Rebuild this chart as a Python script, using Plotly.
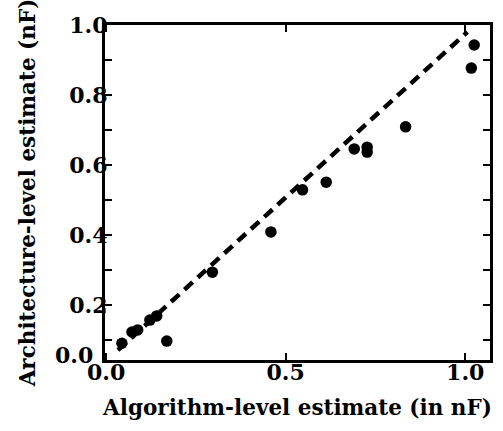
import plotly.graph_objects as go

# Algorithm-level vs architecture-level capacitance estimates (nF)
algo_nf = [0.044, 0.072, 0.088, 0.122, 0.141, 0.169, 0.296, 0.459, 0.547,
           0.613, 0.691, 0.727, 0.727, 0.834, 1.025, 1.017]
arch_nf = [0.091, 0.123, 0.129, 0.157, 0.169, 0.097, 0.294, 0.409, 0.529,
           0.551, 0.646, 0.651, 0.637, 0.709, 0.943, 0.877]

# Fitted trend line endpoints
fit_x = [0.033, 1.006]
fit_y = [0.071, 0.980]

x_ticks = [0.0, 0.5, 1.0]
x_labels = ["0.0", "0.5", "1.0"]
y_ticks = [0.1, 0.2, 0.3, 0.4, 0.5, 0.6, 0.7, 0.8, 0.9, 1.0]
y_labels = ["", "0.2", "", "0.4", "", "0.6", "", "0.8", "", "1.0"]

FONT = "DejaVu Serif"
font_ticks = dict(family=FONT, size=22, color="black", weight="bold")
font_title = dict(family=FONT, size=21.5, color="black", weight="bold")

fig = go.Figure()
fig.add_trace(go.Scatter(
    x=fit_x, y=fit_y, mode="lines",
    line=dict(color="black", width=4.5, dash="11px,7px"),
    hoverinfo="skip",
))
fig.add_trace(go.Scatter(
    x=algo_nf, y=arch_nf, mode="markers",
    marker=dict(color="black", size=11.5, line=dict(width=0)),
))

axis_common = dict(
    showgrid=False, zeroline=False,
    showline=True, linewidth=3, linecolor="black", mirror="ticks",
    ticks="inside", ticklen=7, tickwidth=2, tickcolor="black",
    tickfont=font_ticks,
)

fig.update_xaxes(
    range=[-0.003, 1.069],
    tickvals=x_ticks, ticktext=x_labels,
    ticklabelstandoff=-9,
    title=dict(text="Algorithm-level estimate (in nF)", font=font_title, standoff=16),
    **axis_common,
)
fig.update_yaxes(
    range=[0.043, 1.0],
    tickvals=y_ticks, ticktext=y_labels,
    ticklabelstandoff=-10,
    title=dict(text="Architecture-level estimate (nF)", font=font_title, standoff=28),
    **axis_common,
)

# Origin label on the vertical axis sits at the lower corner of the frame
fig.add_annotation(
    text="0.0", xref="paper", yref="paper", x=0, y=0,
    xanchor="right", yanchor="middle", xshift=-10, yshift=5,
    showarrow=False, font=font_ticks,
)

fig.update_layout(
    width=503, height=431,
    margin=dict(l=105, r=10, t=25, b=71),
    paper_bgcolor="white", plot_bgcolor="white",
    showlegend=False,
)

fig.write_html("out.html")
